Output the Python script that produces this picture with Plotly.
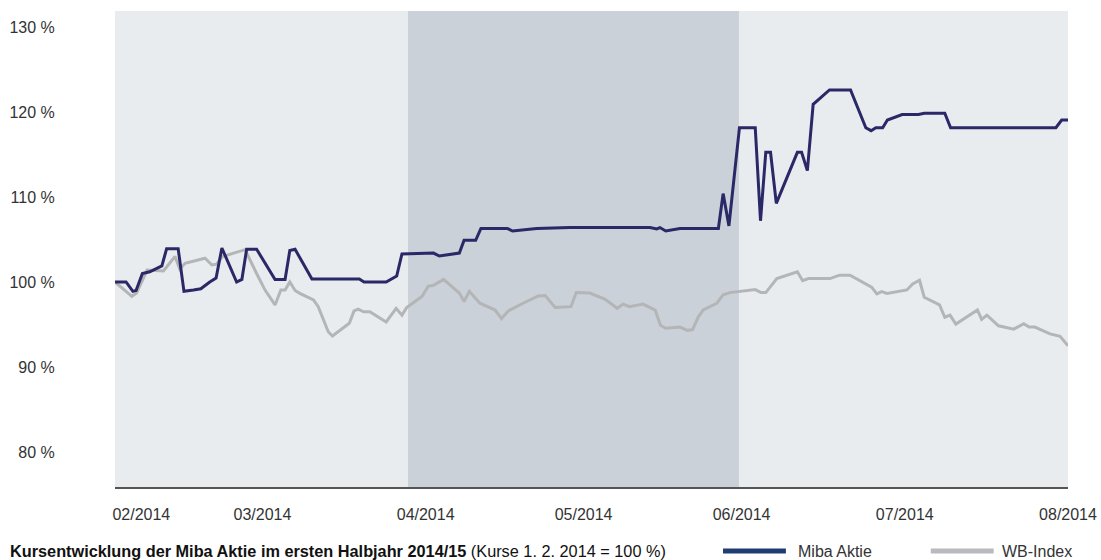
import plotly.graph_objects as go

# x values are days since 1 Feb 2014 (1. 2. 2014 = 100 %)
miba_days = [0, 2.1, 3.4, 4.0, 5.2, 6.6, 8.9, 9.8, 12.0, 13.1, 14.9, 16.3, 18.0, 19.2, 20.3,
             23.1, 24.1, 25.0, 26.9, 30.4, 32.3, 33.2, 34.2, 37.4, 46.4, 47.3, 51.5, 53.5,
             54.5, 60.5, 61.6, 65.4, 66.3, 68.5, 69.5, 74.5, 75.5, 80.1, 86.4, 101.6, 102.9,
             103.5, 104.6, 107.3, 114.6, 115.5, 116.6, 118.6, 121.6, 122.6, 123.6, 124.5,
             125.6, 129.6, 130.4, 131.5, 132.6, 135.7, 139.7, 142.6, 143.6, 144.5, 145.8,
             146.7, 149.5, 152.6, 153.7, 157.6, 158.7, 178.7, 179.8, 181.0]
miba_values = [100.0, 100.0, 98.9, 99.0, 101.0, 101.2, 101.9, 103.9, 103.9, 98.9, 99.05, 99.2,
               100.0, 100.45, 104.0, 100.0, 100.3, 103.85, 103.85, 100.3, 100.3, 103.7, 103.85,
               100.35, 100.35, 100.0, 100.0, 100.7, 103.3, 103.4, 103.05, 103.4, 104.9, 104.9,
               106.3, 106.3, 106.0, 106.3, 106.4, 106.4, 106.25, 106.4, 106.0, 106.3, 106.3,
               110.4, 106.6, 118.15, 118.15, 107.2, 115.25, 115.25, 109.25, 115.25, 115.25,
               113.1, 120.9, 122.6, 122.6, 118.15, 117.8, 118.15, 118.15, 119.05, 119.7, 119.7,
               119.85, 119.85, 118.15, 118.15, 119.05, 119.05]

wb_days = [0, 3.2, 4.1, 6.1, 9.2, 11.4, 12.3, 13.3, 15.2, 17.1, 18.4, 19.3, 20.4, 22.2, 24.7,
           26.9, 28.5, 30.4, 31.5, 32.3, 33.2, 34.2, 35.1, 37.7, 38.6, 40.5, 41.3, 44.5, 45.4,
           46.2, 47.2, 48.4, 51.5, 53.4, 54.5, 55.4, 58.3, 59.5, 60.5, 62.4, 65.4, 66.3, 67.3,
           69.3, 72.2, 73.4, 74.7, 77.5, 80.4, 81.7, 83.6, 86.6, 87.6, 90.2, 93.1, 95.4, 96.5,
           97.7, 100.3, 102.6, 103.6, 104.6, 107.3, 108.7, 109.7, 110.8, 111.7, 114.3, 115.5,
           116.8, 121.6, 122.7, 123.6, 125.7, 129.6, 130.6, 131.7, 135.8, 137.6, 139.6, 143.7,
           144.7, 145.6, 146.6, 150.4, 151.5, 152.8, 153.7, 156.6, 157.6, 158.6, 159.7, 163.8,
           164.6, 165.6, 167.8, 170.7, 172.6, 173.6, 174.7, 177.6, 179.5, 181.0]
wb_values = [100.0, 98.3, 98.7, 101.4, 101.3, 103.0, 101.5, 102.2, 102.5, 102.8, 102.0, 102.1,
             103.0, 103.3, 103.8, 101.0, 99.05, 97.3, 99.05, 99.05, 100.0, 99.0, 98.66, 97.9,
             97.1, 94.15, 93.65, 95.15, 96.6, 96.8, 96.5, 96.5, 95.3, 96.9, 96.1, 97.0, 98.3,
             99.5, 99.6, 100.3, 98.7, 97.7, 98.9, 97.5, 96.7, 95.7, 96.6, 97.5, 98.35, 98.4,
             97.0, 97.1, 98.75, 98.7, 97.95, 96.9, 97.4, 97.1, 97.4, 96.7, 94.9, 94.55, 94.7,
             94.3, 94.4, 95.9, 96.7, 97.5, 98.5, 98.75, 99.1, 98.75, 98.75, 100.4, 101.2,
             100.15, 100.4, 100.4, 100.8, 100.8, 99.4, 98.6, 98.86, 98.66, 99.06, 99.76, 100.2,
             98.2, 97.3, 95.85, 96.1, 95.05, 96.7, 95.6, 96.1, 94.85, 94.45, 95.1, 94.7, 94.7,
             93.9, 93.6, 92.5]

x_tick_days = [5, 28, 59, 89, 119, 150, 181]
x_tick_labels = ["02/2014", "03/2014", "04/2014", "05/2014", "06/2014", "07/2014", "08/2014"]
y_tick_values = [80, 90, 100, 110, 120, 130]
y_tick_labels = ["80 %", "90 %", "100 %", "110 %", "120 %", "130 %"]
highlight_start, highlight_end = 55.65, 118.5

NAVY = "#2A2867"
GREY = "#B4B5B7"
FONT = "Liberation Sans, Arial, sans-serif"

fig = go.Figure()
fig.add_trace(go.Scatter(x=wb_days, y=wb_values, mode="lines", name="WB-Index",
                         line=dict(color=GREY, width=3), showlegend=False))
fig.add_trace(go.Scatter(x=miba_days, y=miba_values, mode="lines", name="Miba Aktie",
                         line=dict(color=NAVY, width=3), showlegend=False))

fig.add_shape(type="rect", xref="x", yref="paper", x0=highlight_start, x1=highlight_end,
              y0=0, y1=1, fillcolor="#CBD1D8", line=dict(width=0), layer="below")

# legend swatches (drawn manually)
fig.add_shape(type="line", xref="paper", yref="paper", x0=0.638, x1=0.704, y0=-0.1345, y1=-0.1345,
              line=dict(color="#1F3C73", width=5))
fig.add_shape(type="line", xref="paper", yref="paper", x0=0.856, x1=0.922, y0=-0.1345, y1=-0.1345,
              line=dict(color="#B9BABD", width=5))
fig.add_annotation(xref="paper", yref="paper", x=0.7145, y=-0.1345, xanchor="left", yanchor="middle",
                   text="Miba Aktie", showarrow=False, font=dict(family=FONT, size=16, color="#333"))
fig.add_annotation(xref="paper", yref="paper", x=0.9285, y=-0.1345, xanchor="left", yanchor="middle",
                   text="WB-Index", showarrow=False, font=dict(family=FONT, size=16, color="#333"))
fig.add_annotation(xref="paper", yref="paper", x=-0.1125, y=-0.1345, xanchor="left", yanchor="middle",
                   text="<b>Kursentwicklung der Miba Aktie im ersten Halbjahr 2014/15</b> (Kurse 1. 2. 2014 = 100 %)",
                   showarrow=False, font=dict(family=FONT, size=16.3, color="#111"))

fig.update_layout(
    width=1101, height=560,
    margin=dict(l=115, r=33, t=11, b=73, autoexpand=False),
    paper_bgcolor="white",
    plot_bgcolor="#E9ECEF",
    font=dict(family=FONT, size=16, color="#333"),
    xaxis=dict(range=[0, 181], tickvals=x_tick_days, ticktext=x_tick_labels, automargin=False,
               showgrid=False, zeroline=False, showline=True, linecolor="#555", linewidth=2,
               ticks="outside", ticklen=12, tickcolor="rgba(0,0,0,0)",
               tickfont=dict(family=FONT, size=16, color="#333")),
    yaxis=dict(range=[75.88, 131.88], tickvals=y_tick_values, ticktext=y_tick_labels, automargin=False,
               showgrid=False, zeroline=False, showline=False,
               ticks="outside", ticklen=56, tickcolor="rgba(0,0,0,0)",
               tickfont=dict(family=FONT, size=16, color="#333")),
)

fig.write_html("out.html")
